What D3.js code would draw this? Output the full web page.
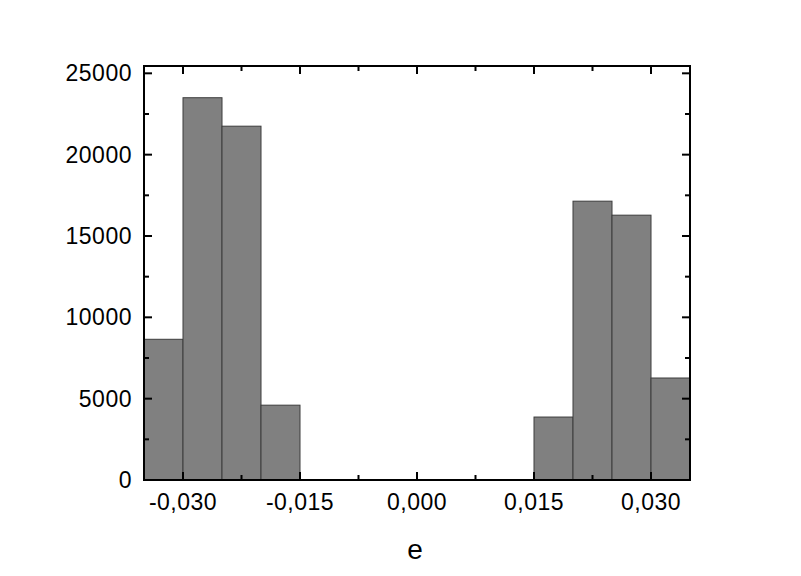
<!DOCTYPE html>
<html><head><meta charset="utf-8">
<script src="https://cdn.jsdelivr.net/npm/d3@7"></script>
<style>html,body{margin:0;padding:0;background:#fff;}</style>
</head><body>
<svg id="c" width="801" height="576"></svg>
<script>
const binStarts = [-0.035, -0.030, -0.025, -0.020, 0.015, 0.020, 0.025, 0.030];
const binWidth = 0.005;
const counts = [8650, 23500, 21750, 4600, 3870, 17140, 16280, 6270];
const xTicks = [-0.030, -0.015, 0.000, 0.015, 0.030];
const yTicks = [0, 5000, 10000, 15000, 20000, 25000];
const xLabel = "e";

const svg = d3.select("#c");
const L = 144, R = 690, T = 66, B = 480;
const x = d3.scaleLinear().domain([-0.035, 0.035]).range([L, R]);
const y = d3.scaleLinear().domain([0, 25450]).range([B, T]);
const fmt = v => d3.format(".3f")(v).replace(".", ",").replace("−", "-");

// bars
svg.append("g").selectAll("rect").data(binStarts).join("rect")
  .attr("x", (d) => x(d))
  .attr("width", d => x(d + binWidth) - x(d))
  .attr("y", (d, i) => y(counts[i]))
  .attr("height", (d, i) => y(0) - y(counts[i]))
  .attr("fill", "#808080").attr("stroke", "#3c3c3c").attr("stroke-width", 1);

const font = "'Liberation Sans', Arial, sans-serif";
const g = svg.append("g");
const xMinor = d3.range(-0.0375, 0.036, 0.0075).filter(v => v > -0.035 && v < 0.035);
const yMinor = d3.range(2500, 25450, 5000);

function tickLines(vals, len, pos) {
  vals.forEach(v => {
    if (pos === "x") {
      g.append("line").attr("x1", x(v)).attr("x2", x(v)).attr("y1", B).attr("y2", B - len).attr("stroke", "#000").attr("stroke-width", 2);
      g.append("line").attr("x1", x(v)).attr("x2", x(v)).attr("y1", T).attr("y2", T + len).attr("stroke", "#000").attr("stroke-width", 2);
    } else {
      g.append("line").attr("x1", L).attr("x2", L + len).attr("y1", y(v)).attr("y2", y(v)).attr("stroke", "#000").attr("stroke-width", 2);
      g.append("line").attr("x1", R).attr("x2", R - len).attr("y1", y(v)).attr("y2", y(v)).attr("stroke", "#000").attr("stroke-width", 2);
    }
  });
}
tickLines(xTicks, 8, "x");
tickLines(xMinor, 5, "x");
tickLines(yTicks, 8, "y");
tickLines(yMinor, 5, "y");

g.append("rect").attr("x", L).attr("y", T).attr("width", R - L).attr("height", B - T)
  .attr("fill", "none").attr("stroke", "#000").attr("stroke-width", 2);

svg.append("g").selectAll("text").data(xTicks).join("text")
  .attr("x", d => x(d)).attr("y", 510).attr("text-anchor", "middle")
  .attr("font-family", font).attr("font-size", 23).attr("letter-spacing", 0.5)
  .text(d => fmt(d));
svg.append("g").selectAll("text").data(yTicks).join("text")
  .attr("x", 132).attr("y", d => y(d) + 8).attr("text-anchor", "end")
  .attr("font-family", font).attr("font-size", 23).attr("letter-spacing", 0.5)
  .text(d => d);
svg.append("text").attr("x", 415).attr("y", 559).attr("text-anchor", "middle")
  .attr("font-family", font).attr("font-size", 28).text(xLabel);
</script>
</body></html>
